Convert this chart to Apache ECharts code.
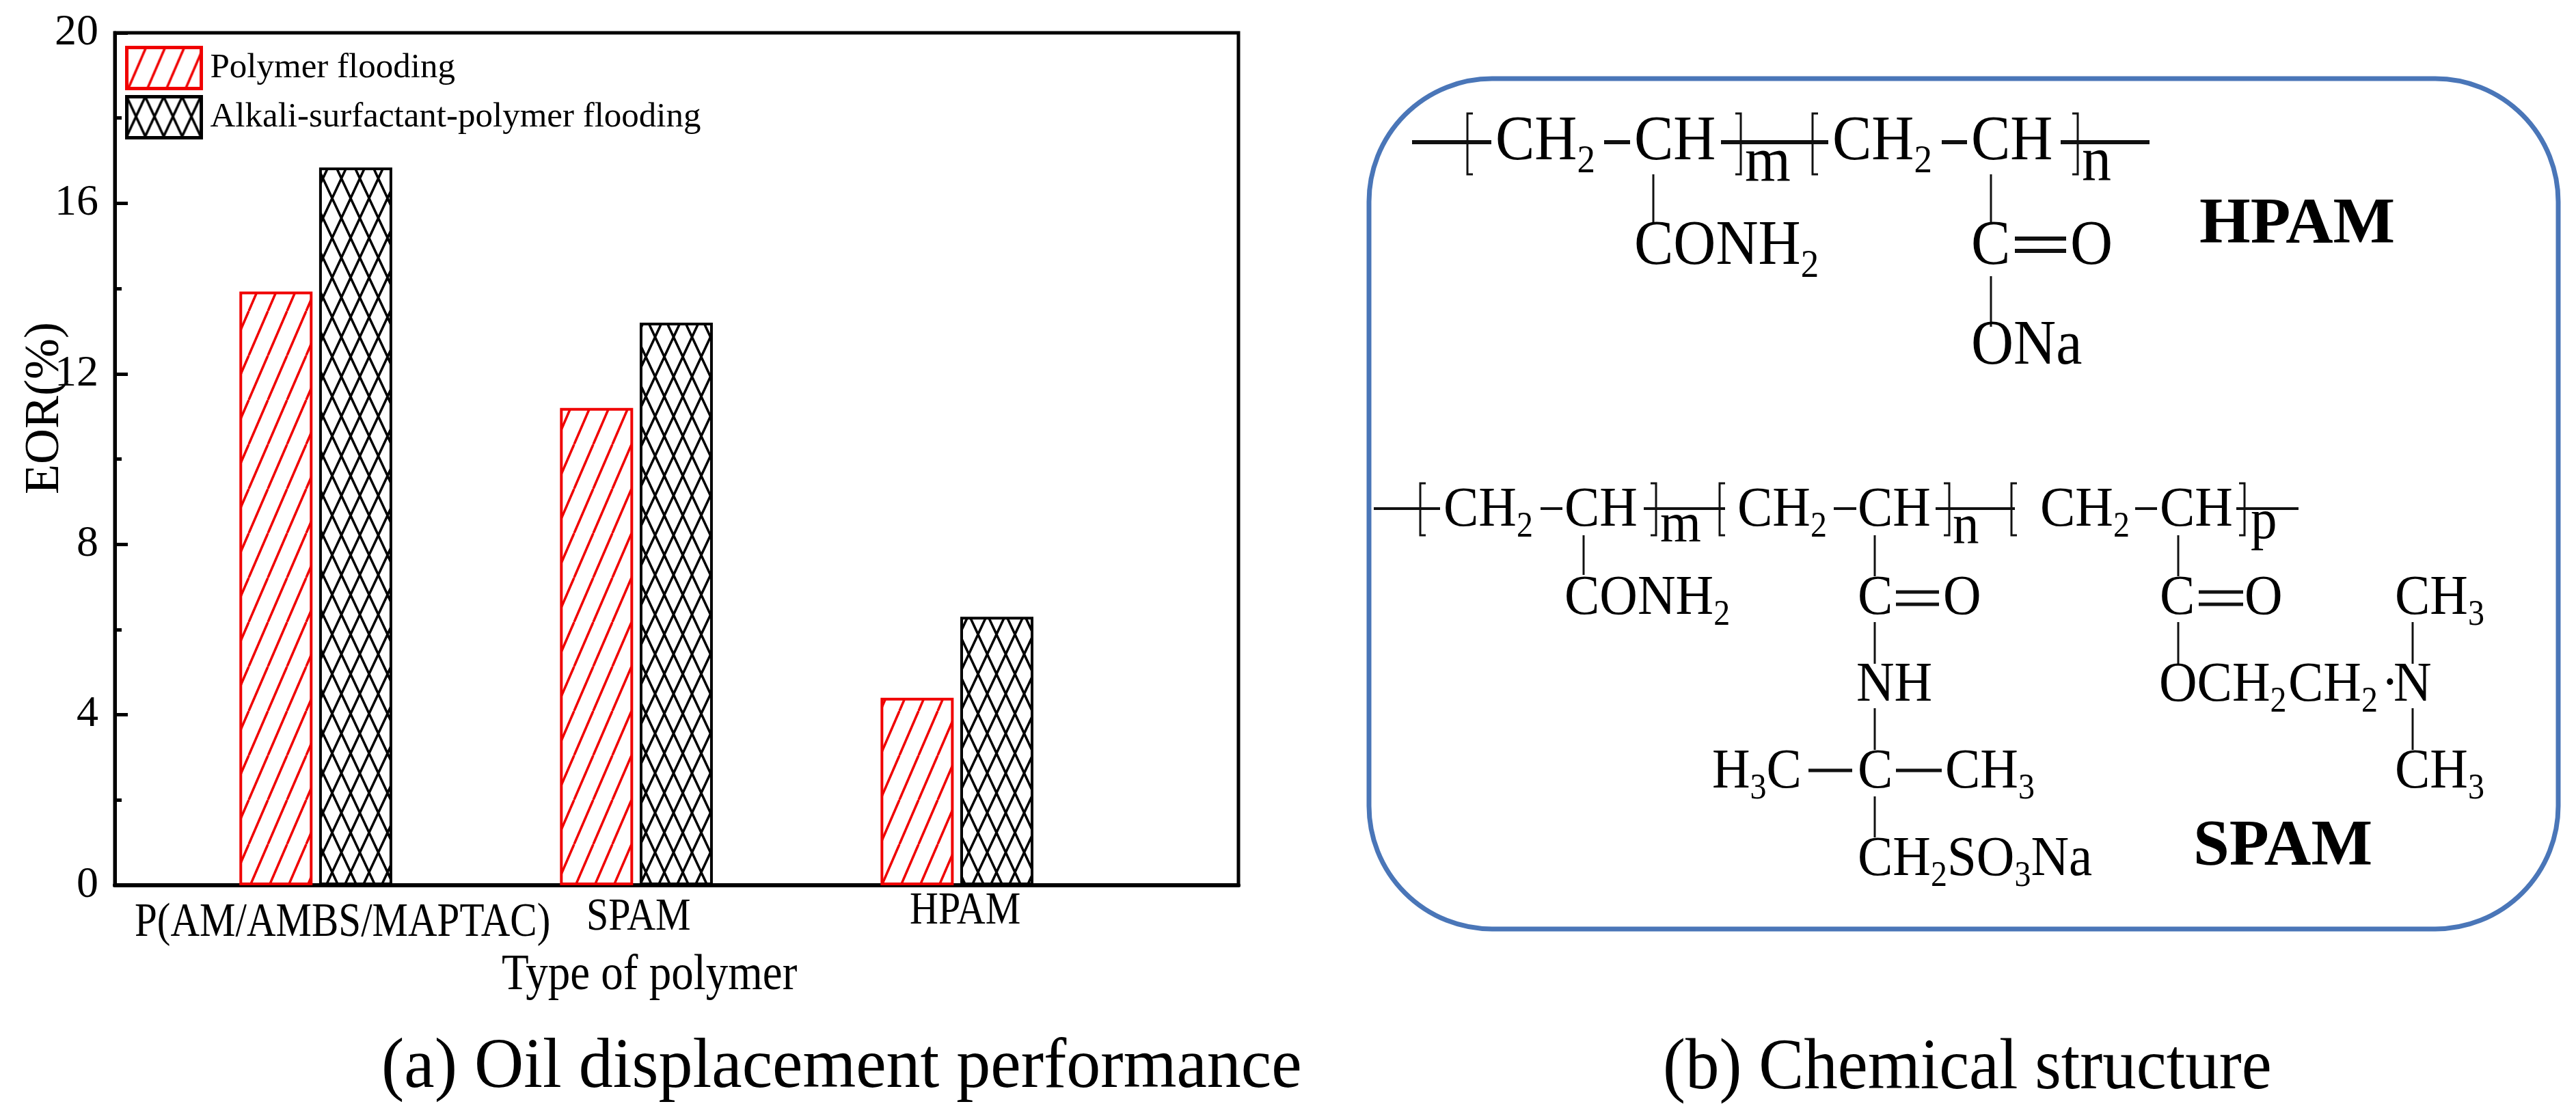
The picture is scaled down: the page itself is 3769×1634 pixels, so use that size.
<!DOCTYPE html>
<html>
<head>
<meta charset="utf-8">
<script src="https://cdn.jsdelivr.net/npm/echarts@6/dist/echarts.min.js"></script>
<style>
  html, body { margin: 0; padding: 0; background: #fff; }
  #main { width: 3769px; height: 1634px; }
</style>
</head>
<body>
<div id="main"></div>
<script>
const categories = ['P(AM/AMBS/MAPTAC)', 'SPAM', 'HPAM']
const positions = [1, 2, 3]
const polymerFlooding = [13.93, 11.2, 4.4]
const aspFlooding = [16.84, 13.2, 6.3]
const seriesNames = ['Polymer flooding', 'Alkali-surfactant-polymer flooding']
const yTicks = [0, 4, 8, 12, 16, 20]

const SERIF = '"Liberation Serif", "Times New Roman", serif'

// hatch tiles for the bars
function hatchTile(w, h, color, lineW, cross) {
  const c = document.createElement('canvas')
  c.width = w
  c.height = h
  const g = c.getContext('2d')
  g.fillStyle = '#fff'
  g.fillRect(0, 0, w, h)
  g.strokeStyle = color
  g.lineWidth = lineW
  for (let k = -1; k <= 1; k++) {
    g.beginPath()
    g.moveTo(k * w, h)
    g.lineTo(k * w + w, 0)
    if (cross) {
      g.moveTo(k * w, 0)
      g.lineTo(k * w + w, h)
    }
    g.stroke()
  }
  return c
}

const redHatch = { image: hatchTile(28, 65, '#f00000', 3.5, false), repeat: 'repeat' }
const blackHatch = { image: hatchTile(27, 58, '#000', 3.5, true), repeat: 'repeat' }

const measureCtx = document.createElement('canvas').getContext('2d')

function textEl(str, x, y, size, opt) {
  opt = opt || {}
  return {
    type: 'text',
    x: x,
    y: y,
    scaleX: opt.scaleX || 1,
    scaleY: opt.scaleY || 1,
    rotation: opt.rotation || 0,
    z: 10,
    style: {
      text: str,
      fill: opt.fill || '#000',
      font: (opt.bold ? 'bold ' : '') + size + 'px ' + SERIF,
      textAlign: opt.align || 'left',
      align: opt.align || 'left',
      textVerticalAlign: 'middle',
      verticalAlign: 'middle'
    }
  }
}

// chemical formula, digits drop to subscript
function formula(str, x, y, size) {
  const out = []
  const subSize = Math.round(size * 0.62)
  let cx = x
  for (const ch of str) {
    const isSub = /[0-9]/.test(ch)
    const s = isSub ? subSize : size
    out.push(textEl(ch, cx, isSub ? y + size * 0.32 : y, s, { scaleY: 1.08 }))
    measureCtx.font = s + 'px ' + SERIF
    cx += measureCtx.measureText(ch).width
  }
  return out
}

function seg(x1, y1, x2, y2, w) {
  return {
    type: 'line',
    z: 9,
    shape: { x1: x1, y1: y1, x2: x2, y2: y2 },
    style: { stroke: '#111', lineWidth: w || 3 }
  }
}

function bracket(x, y1, y2, dir) {
  return {
    type: 'polyline',
    z: 9,
    shape: { points: [[x + dir * 8, y1], [x, y1], [x, y2], [x + dir * 8, y2]] },
    style: { stroke: '#111', lineWidth: 3, fill: null }
  }
}

const panelB = [
  {
    type: 'rect',
    z: 8,
    shape: { x: 2003, y: 115, width: 1740, height: 1244, r: 180 },
    style: { fill: '#fff', stroke: '#4a76b8', lineWidth: 7 }
  },
  // HPAM
  seg(2066, 208, 2182, 208, 6), bracket(2147, 166, 255, 1),
  seg(2347, 208, 2385, 208, 6), bracket(2547, 166, 255, -1),
  seg(2518, 208, 2675, 208, 6), bracket(2652, 166, 255, 1),
  seg(2841, 208, 2878, 208, 6), bracket(3040, 166, 255, -1),
  seg(3015, 208, 3145, 208, 6),
  seg(2419, 255, 2419, 325), seg(2913, 255, 2913, 325),
  seg(2948, 349, 3023, 349, 6), seg(2948, 367, 3023, 367, 6),
  seg(2913, 404, 2913, 478),
  // SPAM
  seg(2010, 744, 2107, 744, 4), bracket(2078, 707, 783, 1),
  seg(2254, 744, 2286, 744, 4), bracket(2423, 707, 783, -1),
  seg(2405, 744, 2524, 744, 4), bracket(2516, 707, 783, 1),
  seg(2683, 744, 2716, 744, 4), bracket(2852, 707, 783, -1),
  seg(2832, 744, 2948, 744, 4), bracket(2943, 707, 783, 1),
  seg(3124, 744, 3156, 744, 4), bracket(3284, 707, 783, -1),
  seg(3272, 744, 3363, 744, 4),
  seg(2317, 783, 2317, 841),
  seg(2743, 783, 2743, 843), seg(2774, 866, 2837, 866, 5), seg(2774, 884, 2837, 884, 5),
  seg(2743, 910, 2743, 971), seg(2743, 1036, 2743, 1097),
  seg(2646, 1127, 2710, 1127, 5), seg(2774, 1127, 2841, 1127, 5),
  seg(2743, 1165, 2743, 1225),
  seg(3187, 783, 3187, 843), seg(3217, 866, 3282, 866, 5), seg(3217, 884, 3282, 884, 5),
  seg(3187, 910, 3187, 971),
  seg(3530, 910, 3530, 971), seg(3530, 1036, 3530, 1097)
]

const hpamTexts = [
  ['CH2', 2188, 209], ['CH', 2391, 209], ['CH2', 2681, 209], ['CH', 2884, 209],
  ['m', 2553, 240], ['n', 3046, 240],
  ['CONH2', 2391, 362], ['C', 2884, 362], ['O', 3029, 362], ['ONa', 2884, 508]
]
const spamTexts = [
  ['CH2', 2112, 747], ['CH', 2289, 747], ['CH2', 2542, 747], ['CH', 2718, 747],
  ['CH2', 2985, 747], ['CH', 3160, 747],
  ['m', 2429, 770], ['n', 2857, 772], ['p', 3293, 765],
  ['CONH2', 2289, 876], ['C', 2718, 876], ['O', 2843, 876], ['C', 3160, 876], ['O', 3284, 876],
  ['CH3', 3504, 876], ['NH', 2716, 1003], ['OCH2', 3159, 1003], ['CH2', 3348, 1003], ['·', 3484, 1003], ['N', 3502, 1003],
  ['H3C', 2505, 1130], ['C', 2718, 1130], ['CH3', 2846, 1130], ['CH3', 3504, 1130],
  ['CH2SO3Na', 2718, 1258]
]

hpamTexts.forEach(t => panelB.push(...formula(t[0], t[1], t[2], 86)))
spamTexts.forEach(t => panelB.push(...formula(t[0], t[1], t[2], 77)))
panelB.push(textEl('HPAM', 3218, 330, 96, { bold: true }))
panelB.push(textEl('SPAM', 3209, 1240, 95, { bold: true }))

const panelA = [
  textEl(categories[0], 197, 1351, 59, { scaleY: 1.17 }),
  textEl(categories[1], 858, 1342, 58, { scaleY: 1.17 }),
  textEl(categories[2], 1331, 1333, 58, { scaleY: 1.17 }),
  textEl('Type of polymer', 734, 1428, 65, { scaleY: 1.14 }),
  textEl('EOR(%)', 66, 597, 72, { rotation: Math.PI / 2, align: 'center' }),
  textEl('(a) Oil displacement performance', 558, 1563, 100, { scaleY: 1.03 }),
  textEl('(b) Chemical structure', 2433, 1564, 99, { scaleY: 1.07 })
]

var myChart = echarts.init(document.getElementById('main'))

var option = {
  animation: false,
  backgroundColor: '#fff',
  grid: {
    left: 168, top: 48, width: 1644, height: 1247,
    show: true, borderColor: '#000', borderWidth: 5, backgroundColor: 'transparent'
  },
  legend: {
    orient: 'vertical',
    left: 183,
    top: 67,
    padding: 0,
    itemWidth: 109,
    itemHeight: 60,
    itemGap: 7,
    icon: 'rect',
    data: seriesNames,
    itemStyle: { borderWidth: 5 },
    textStyle: { fontFamily: SERIF, fontSize: 51, color: '#000', padding: [0, 0, 0, 8] }
  },
  xAxis: {
    type: 'value',
    min: 0.373,
    max: 3.878,
    axisLine: { show: true, lineStyle: { color: '#000', width: 6 } },
    axisTick: { show: false },
    axisLabel: { show: false },
    splitLine: { show: false }
  },
  yAxis: {
    type: 'value',
    min: yTicks[0],
    max: yTicks[yTicks.length - 1],
    interval: 4,
    axisLine: { show: true, lineStyle: { color: '#000', width: 5 } },
    axisTick: { show: true, inside: true, length: 19, lineStyle: { color: '#000', width: 5 } },
    minorTick: { show: true, splitNumber: 2, length: 10, lineStyle: { color: '#000', width: 5 } },
    axisLabel: { fontFamily: SERIF, fontSize: 64, color: '#000', margin: 24 },
    splitLine: { show: false }
  },
  series: [
    {
      name: seriesNames[0],
      type: 'bar',
      barWidth: 107,
      barGap: '9%',
      itemStyle: { color: redHatch, borderColor: '#f00000', borderWidth: 4 },
      data: positions.map((p, i) => [p, polymerFlooding[i]])
    },
    {
      name: seriesNames[1],
      type: 'bar',
      barWidth: 107,
      itemStyle: { color: blackHatch, borderColor: '#000', borderWidth: 4 },
      data: positions.map((p, i) => [p, aspFlooding[i]])
    }
  ],
  graphic: panelA.concat(panelB)
}

myChart.setOption(option)
</script>
</body>
</html>
